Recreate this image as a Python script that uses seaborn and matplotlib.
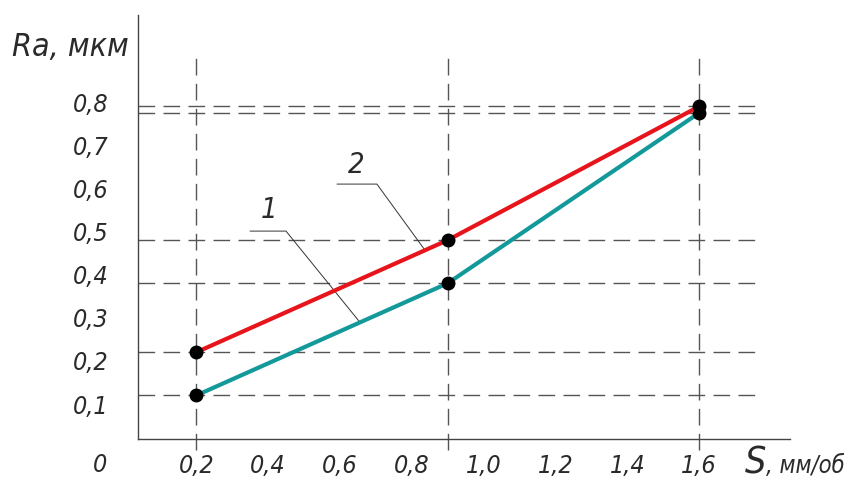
import numpy as np
import pandas as pd
import matplotlib
matplotlib.use("Agg")
import matplotlib.pyplot as plt
import seaborn as sns

# Feed rate S (мм/об) and roughness Ra (мкм) for the two curves
feed = [0.2, 0.9, 1.6]
ra_curve1 = [0.12, 0.38, 0.775]
ra_curve2 = [0.22, 0.48, 0.79]
curve_names = ["1", "2"]
curve_colors = ["#14999a", "#e8141b"]

x_ticks = [0.2, 0.4, 0.6, 0.8, 1.0, 1.2, 1.4, 1.6]
y_ticks = [0.1, 0.2, 0.3, 0.4, 0.5, 0.6, 0.7, 0.8]

df = pd.DataFrame({
    "S": feed * 2,
    "Ra": ra_curve1 + ra_curve2,
    "curve": [curve_names[0]] * len(feed) + [curve_names[1]] * len(feed),
})

sns.set_style("white")
plt.rcParams["font.family"] = ["DejaVu Sans"]
plt.rcParams["font.style"] = "italic"
plt.rcParams["font.stretch"] = "condensed"

INK = "#2a2a2a"
GRID = "#555555"
W, H = 857, 482

fig = plt.figure(figsize=(W / 100, H / 100), dpi=100)
ax = fig.add_axes([138 / W, 43 / H, (790 - 138) / W, (439 - 15) / H])

xlim = (0.038, 1.853)
ylim = (0.019, 1.002)

# construction lines through every measured point
dash = (0, (12, 6))
for v in ra_curve1 + ra_curve2:
    ax.hlines(v, xlim[0], 1.758, colors=GRID, linewidth=1.0,
              linestyles=dash, zorder=1)
ax.vlines(feed, -0.007, 0.903, colors=GRID, linewidth=1.0,
          linestyles=dash, zorder=1, clip_on=False)

sns.lineplot(data=df, x="S", y="Ra", hue="curve", hue_order=curve_names,
             palette=curve_colors, linewidth=3, marker="o", markersize=9,
             markerfacecolor="black", markeredgecolor="black",
             markeredgewidth=1, legend=False, ax=ax, zorder=3)
for line in ax.get_lines():
    line.set_markerfacecolor("black")
    line.set_markeredgecolor("black")

ax.set_xlim(*xlim)
ax.set_ylim(*ylim)
ax.set_xlabel("")
ax.set_ylabel("")

for side in ("top", "right"):
    ax.spines[side].set_visible(False)
for side in ("left", "bottom"):
    ax.spines[side].set_color("#444444")
    ax.spines[side].set_linewidth(1.0)

fmt = lambda v: f"{v:.1f}".replace(".", ",")
ax.set_xticks(x_ticks)
ax.set_xticklabels([fmt(v) for v in x_ticks])
ax.set_yticks(y_ticks)
ax.set_yticklabels([fmt(v) for v in y_ticks])
ax.tick_params(axis="y", direction="inout", length=17, width=0.8,
               color="#444444", pad=13, labelsize=18, labelcolor=INK)
ax.tick_params(axis="x", direction="in", length=7, width=0.8,
               color="#444444", pad=11, labelsize=18, labelcolor=INK)

# leader lines with curve numbers
leaders = [
    # name, x where leader touches the curve, shelf start/end x, shelf y, label xy
    ("1", 0.656, 0.350, 0.450, 0.501, (0.404, 0.550)),
    ("2", 0.837, 0.592, 0.703, 0.610, (0.645, 0.654)),
]
series = {"1": ra_curve1, "2": ra_curve2}
for name, xt, x0, x1, ys, (lx, ly) in leaders:
    yt = np.interp(xt, feed, series[name])
    ax.plot([x0, x1, xt], [ys, ys, yt], color="#333333", linewidth=0.7,
            zorder=2)
    ax.text(lx, ly, name, ha="center", va="center", fontsize=21,
            color=INK)

fig.text(100 / W, 1 - 465 / H, "0", ha="center", va="center",
         fontsize=18, color=INK)
fig.text(12 / W, 1 - 47 / H, "Ra, мкм", ha="left", va="center",
         fontsize=23, color=INK)

# axis name: large "S" followed by the unit in smaller type
base_y = 1 - 473 / H
s_txt = fig.text(745 / W, base_y, "S", ha="left", va="baseline",
                 fontsize=27, color=INK)
fig.canvas.draw()
s_right = s_txt.get_window_extent().x1
fig.text(s_right / W, base_y, ", мм/об", ha="left", va="baseline",
         fontsize=17, color=INK)

fig.savefig("out.png", dpi=100, facecolor="white")
